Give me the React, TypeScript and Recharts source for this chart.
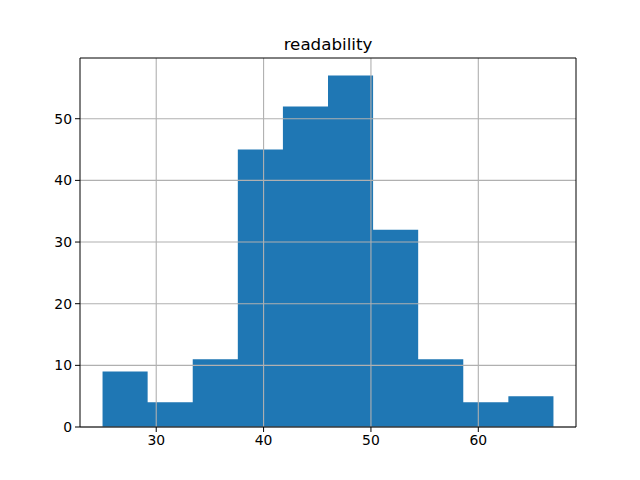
import React from 'react'
import { ComposedChart, Area, XAxis, YAxis, ReferenceLine } from 'recharts'

// histogram of readability scores: 10 bins
const binEdges = [25, 29.2, 33.4, 37.6, 41.8, 46, 50.2, 54.4, 58.6, 62.8, 67]
const binCounts = [9, 4, 11, 45, 52, 57, 32, 11, 4, 5]
const xTicks = [30, 40, 50, 60]
const yTicks = [0, 10, 20, 30, 40, 50]
const xDomain = [22.9, 69.1]
const yDomain = [0, 59.85]

// step area needs one point per edge, last edge repeats the last count
const data = binEdges.map((edge, i) => ({
  x: edge,
  count: binCounts[Math.min(i, binCounts.length - 1)]
}))

const font = 'DejaVu Sans, sans-serif'
const tickStyle = { fontSize: 13.9, fontFamily: font, fill: '#000' }
const gridColor = '#b0b0b0'

export default function App() {
  return (
    <div style={{ position: 'absolute', left: 0, top: 0, width: 640, height: 480, background: '#fff' }}>
      <ComposedChart
        width={640}
        height={480}
        data={data}
        margin={{ top: 58, right: 64, bottom: 23, left: 40 }}
      >
        <XAxis
          dataKey="x"
          type="number"
          domain={xDomain}
          ticks={xTicks}
          height={30}
          allowDataOverflow
          stroke="#000"
          tick={tickStyle}
          tickSize={5}
          tickMargin={3}
        />
        <YAxis
          type="number"
          domain={yDomain}
          ticks={yTicks}
          width={40}
          allowDataOverflow
          stroke="#000"
          tick={tickStyle}
          tickSize={5}
          tickMargin={3}
        />
        <Area
          type="stepAfter"
          dataKey="count"
          fill="#1f77b4"
          fillOpacity={1}
          stroke="none"
          isAnimationActive={false}
        />
        {xTicks.map(t => (
          <ReferenceLine key={'x' + t} x={t} stroke={gridColor} strokeWidth={1.1} />
        ))}
        {yTicks.map(t => (
          <ReferenceLine key={'y' + t} y={t} stroke={gridColor} strokeWidth={1.1} />
        ))}
        {/* top and right spines */}
        <ReferenceLine y={yDomain[1]} stroke="#000" strokeWidth={1} />
        <ReferenceLine x={xDomain[1]} stroke="#000" strokeWidth={1} />
      </ComposedChart>
      <svg width={640} height={480} style={{ position: 'absolute', left: 0, top: 0, pointerEvents: 'none' }}>
        <text x={328} y={50} textAnchor="middle" fontSize={16.7} fontFamily={font} fill="#000">
          readability
        </text>
      </svg>
    </div>
  )
}
